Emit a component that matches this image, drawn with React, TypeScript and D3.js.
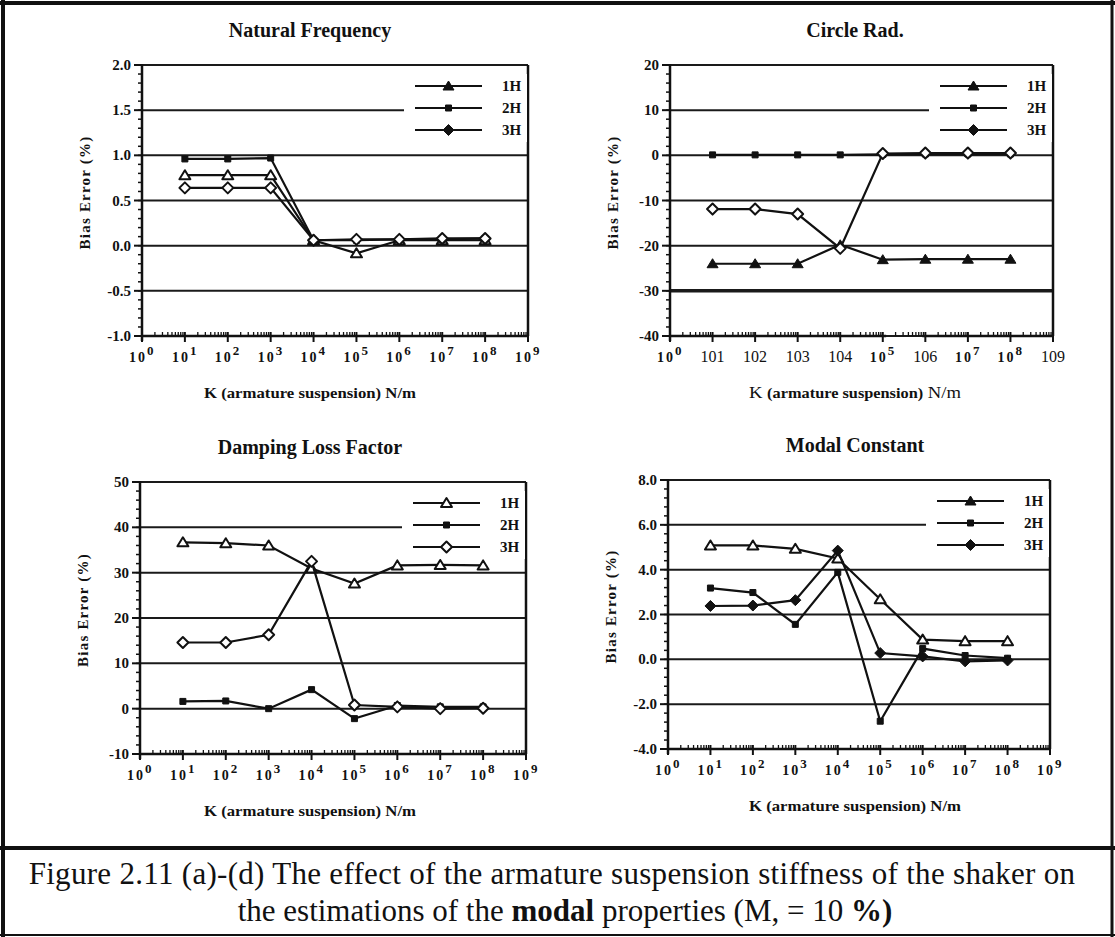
import React from 'react';
import * as d3 from 'd3';

const W = 1115;
const H = 937;
const SERIF = "'Liberation Serif', 'Times New Roman', serif";

// stiffness values (N/m) where the bias errors were estimated
const kValues = [1e1, 1e2, 1e3, 1e4, 1e5, 1e6, 1e7, 1e8];
const seriesNames = ['1H', '2H', '3H'];

// (a) natural frequency, bias error %
const natFreq1H = [0.78, 0.78, 0.78, 0.06, -0.085, 0.06, 0.06, 0.06];
const natFreq2H = [0.96, 0.96, 0.97, 0.06, 0.06, 0.07, 0.07, 0.08];
const natFreq3H = [0.64, 0.64, 0.64, 0.06, 0.07, 0.07, 0.08, 0.08];

// (b) circle radius
const circRad1H = [-24, -24, -24, -19.8, -23.1, -23, -23, -23];
const circRad2H = [0.1, 0.1, 0.1, 0.1, 0.2, 0.3, 0.3, 0.3];
const circRad3H = [-11.9, -11.9, -13, -20.6, 0.4, 0.5, 0.5, 0.5];

// (c) damping loss factor
const damping1H = [36.7, 36.5, 36, 30.9, 27.6, 31.6, 31.7, 31.6];
const damping2H = [1.6, 1.7, 0, 4.2, -2.2, 0.7, 0.4, 0.4];
const damping3H = [14.6, 14.6, 16.3, 32.5, 0.8, 0.4, 0, 0.1];

// (d) modal constant
const modal1H = [5.08, 5.08, 4.93, 4.5, 2.68, 0.88, 0.81, 0.81];
const modal2H = [3.18, 2.98, 1.56, 3.88, -2.76, 0.48, 0.17, 0.05];
const modal3H = [2.38, 2.4, 2.64, 4.85, 0.28, 0.13, -0.09, -0.05];

// axis tick values and labels
const natFreqTicks = [-1.0, -0.5, 0.0, 0.5, 1.0, 1.5, 2.0];
const circRadTicks = [-40, -30, -20, -10, 0, 10, 20];
const dampingTicks = [-10, 0, 10, 20, 30, 40, 50];
const modalTicks = [-4.0, -2.0, 0.0, 2.0, 4.0, 6.0, 8.0];
const decadeLabels = ['10^0', '10^1', '10^2', '10^3', '10^4', '10^5', '10^6', '10^7', '10^8', '10^9'];
const circRadLabels = ['10^0', '101', '102', '103', '104', '10^5', '106', '10^7', '10^8', '109'];

const triangle = (s) => `M0,${-s}L${s * 1.1},${s * 0.8}L${-s * 1.1},${s * 0.8}Z`;
const square = (s) => `M${-s},${-s}H${s}V${s}H${-s}Z`;
const diamond = (s) => `M0,${-s}L${s},0L0,${s}L${-s},0Z`;

function Marker({ shape, x, y, hollow }) {
  let d;
  if (shape === 'tri') d = triangle(5);
  else if (shape === 'sq') d = square(3);
  else d = diamond(5.5);
  return (
    <path d={d} transform={`translate(${x},${y})`} fill={hollow ? 'white' : '#111'}
      stroke="#111" strokeWidth={hollow ? 2 : 1} strokeLinejoin="round" />
  );
}

function TickLabel({ label, x, y }) {
  if (label.indexOf('^') >= 0) {
    const [base, exp] = label.split('^');
    return (
      <text x={x - 13} y={y} fontFamily={SERIF} fontWeight="bold" fontSize={14} letterSpacing={2} fill="#111">
        {base}<tspan dy={-7} fontSize={13}>{exp}</tspan>
      </text>
    );
  }
  return (
    <text x={x} y={y} textAnchor="middle" fontFamily={SERIF} fontSize={16} fill="#111">{label}</text>
  );
}

function Panel({ cfg }) {
  const { left, right, top, bottom } = cfg;
  const x = d3.scaleLog().domain([1, 1e9]).range([left, right]);
  const y = d3.scaleLinear().domain(cfg.yDomain).range([bottom, top]);
  const line = d3.line().x((d) => x(d[0])).y((d) => y(d[1]));
  const fmt = (v) => d3.format(cfg.yFormat)(v).replace('\u2212', '-');

  const step = cfg.yTicks[1] - cfg.yTicks[0];
  const yMinor = d3.range(cfg.yDomain[0], cfg.yDomain[1] + 1e-9, step / 5);
  const xMinor = [];
  for (let dec = 0; dec < 9; dec++) {
    for (let m = 2; m <= 9; m++) xMinor.push(m * Math.pow(10, dec));
  }
  const decades = d3.range(0, 10).map((e) => Math.pow(10, e));

  const legX0 = right - 113;
  const legX1 = right - 46;
  const legY = [top + 21, top + 43, top + 65];

  return (
    <g>
      <text x={cfg.titleX} y={top - 28} textAnchor="middle" fontFamily={SERIF} fontWeight="bold" fontSize={20} fill="#111">
        {cfg.title}
      </text>

      {/* gridlines */}
      {cfg.yTicks.map((t) => (
        <line key={'g' + t} x1={left} x2={right} y1={y(t)} y2={y(t)} stroke="#1a1a1a"
          strokeWidth={t === cfg.heavyTick ? 3.5 : 2} />
      ))}
      <line x1={right} x2={right} y1={top} y2={bottom} stroke="#111" strokeWidth={2.5} />

      {/* legend */}
      <rect x={right - 124} y={top + 9} width={123} height={68} fill="white" />
      {seriesNames.map((n, i) => (
        <g key={'l' + n}>
          <line x1={legX0} x2={legX1} y1={legY[i]} y2={legY[i]} stroke="#111" strokeWidth={2} />
          <Marker shape={cfg.series[i].shape} x={(legX0 + legX1) / 2} y={legY[i]} hollow={cfg.series[i].legendHollow} />
          <text x={right - 26} y={legY[i] + 5} fontFamily={SERIF} fontWeight="bold" fontSize={15} fill="#111">{n}</text>
        </g>
      ))}

      {/* y axis */}
      <line x1={left} x2={left} y1={top - 1} y2={bottom + 5} stroke="#111" strokeWidth={2.5} />
      {yMinor.map((t, i) => (
        <line key={'ym' + i} x1={left - 4} x2={left} y1={y(t)} y2={y(t)} stroke="#111" strokeWidth={1.5} />
      ))}
      {cfg.yTicks.map((t) => (
        <g key={'yt' + t}>
          <line x1={left - 8} x2={left} y1={y(t)} y2={y(t)} stroke="#111" strokeWidth={2} />
          <text x={left - 11} y={y(t) + 5} textAnchor="end" fontFamily={SERIF} fontWeight="bold" fontSize={15} fill="#111">
            {fmt(t)}
          </text>
        </g>
      ))}
      <text transform={`translate(${left - 52},${(top + bottom) / 2 - 8}) rotate(-90)`} textAnchor="middle"
        fontFamily={SERIF} fontWeight="bold" fontSize={15} letterSpacing={1.2} fill="#111">
        Bias  Error  (%)
      </text>

      {/* x axis */}
      {cfg.axisGap ? (
        <g>
          <line x1={left} x2={x(cfg.axisGap[0])} y1={bottom} y2={bottom} stroke="#111" strokeWidth={2.5} />
          <line x1={x(cfg.axisGap[1])} x2={right} y1={bottom} y2={bottom} stroke="#111" strokeWidth={2.5} />
        </g>
      ) : (
        <line x1={left} x2={right} y1={bottom} y2={bottom} stroke="#111" strokeWidth={2.5} />
      )}
      {xMinor.map((v, i) => (
        <line key={'xm' + i} x1={x(v)} x2={x(v)} y1={bottom - 4} y2={bottom} stroke="#111" strokeWidth={1.3} />
      ))}
      {decades.map((v, i) => (
        <g key={'xd' + i}>
          <line x1={x(v)} x2={x(v)} y1={bottom - 4} y2={bottom + 6} stroke="#111" strokeWidth={2} />
          <TickLabel label={cfg.xLabels[i]} x={x(v)} y={bottom + 26} />
        </g>
      ))}
      <text x={cfg.titleX} y={bottom + 62} textAnchor="middle" fontFamily={SERIF} fontSize={14} fill="#111"
        textLength={212} lengthAdjust="spacingAndGlyphs">
        {cfg.xTitle.map((p, i) => (
          <tspan key={i} fontWeight={p.bold ? 'bold' : 'normal'} fontSize={p.bold ? 14 : 16}>{p.text}</tspan>
        ))}
      </text>

      {/* series */}
      {cfg.series.map((s, si) => {
        const pts = kValues.map((k, i) => [k, s.values[i]]);
        return (
          <g key={'s' + si}>
            <path d={line(pts)} fill="none" stroke="#111" strokeWidth={2.2} />
            {pts.map((p, i) => (
              <Marker key={i} shape={s.shape} x={x(p[0])} y={y(p[1])} hollow={s.hollow} />
            ))}
          </g>
        );
      })}
    </g>
  );
}

const boldTitle = [{ text: 'K (armature suspension) N/m', bold: true }];
const mixedTitle = [
  { text: 'K ', bold: false },
  { text: '(armature suspension)', bold: true },
  { text: ' N/m', bold: false },
];

const panels = [
  {
    title: 'Natural  Frequency', titleX: 310, left: 142, right: 528, top: 65, bottom: 336,
    yDomain: [-1, 2], yTicks: natFreqTicks, yFormat: '.1f', xLabels: decadeLabels, xTitle: boldTitle,
    series: [
      { values: natFreq1H, shape: 'tri', hollow: true, legendHollow: false },
      { values: natFreq2H, shape: 'sq', hollow: false, legendHollow: false },
      { values: natFreq3H, shape: 'dia', hollow: true, legendHollow: false },
    ],
  },
  {
    title: 'Circle Rad.', titleX: 855, left: 670, right: 1053, top: 65, bottom: 336,
    yDomain: [-40, 20], yTicks: circRadTicks, yFormat: 'd', xLabels: circRadLabels, xTitle: mixedTitle,
    heavyTick: -30, axisGap: [1.2e5, 0.85e6],
    series: [
      { values: circRad1H, shape: 'tri', hollow: false, legendHollow: false },
      { values: circRad2H, shape: 'sq', hollow: false, legendHollow: false },
      { values: circRad3H, shape: 'dia', hollow: true, legendHollow: false },
    ],
  },
  {
    title: 'Damping Loss Factor', titleX: 310, left: 140, right: 526, top: 482, bottom: 754,
    yDomain: [-10, 50], yTicks: dampingTicks, yFormat: 'd', xLabels: decadeLabels, xTitle: boldTitle,
    series: [
      { values: damping1H, shape: 'tri', hollow: true, legendHollow: true },
      { values: damping2H, shape: 'sq', hollow: false, legendHollow: false },
      { values: damping3H, shape: 'dia', hollow: true, legendHollow: true },
    ],
  },
  {
    title: 'Modal Constant', titleX: 855, left: 668, right: 1050, top: 480, bottom: 749,
    yDomain: [-4, 8], yTicks: modalTicks, yFormat: '.1f', xLabels: decadeLabels, xTitle: boldTitle,
    series: [
      { values: modal1H, shape: 'tri', hollow: true, legendHollow: false },
      { values: modal2H, shape: 'sq', hollow: false, legendHollow: false },
      { values: modal3H, shape: 'dia', hollow: false, legendHollow: false },
    ],
  },
];

export default function App() {
  return (
    <svg width={W} height={H} style={{ position: 'absolute', left: 0, top: 0, background: 'white' }}>
      <rect x={0} y={0} width={W} height={H} fill="white" />
      {/* figure frame */}
      <line x1={0} x2={W} y1={3} y2={3} stroke="#111" strokeWidth={4} />
      <line x1={3} x2={3} y1={0} y2={H} stroke="#111" strokeWidth={4} />
      <line x1={1112} x2={1112} y1={0} y2={H} stroke="#111" strokeWidth={3} />
      <line x1={0} x2={W} y1={848} y2={848} stroke="#111" strokeWidth={4} />
      <line x1={0} x2={W} y1={935} y2={935} stroke="#111" strokeWidth={2} />

      {panels.map((p, i) => <Panel key={i} cfg={p} />)}

      <text x={552} y={884} textAnchor="middle" fontFamily={SERIF} fontSize={31} letterSpacing={0.3} fill="#111">
        Figure 2.11 (a)-(d)   The effect of the armature suspension stiffness of the shaker on
      </text>
      <text x={565} y={921} textAnchor="middle" fontFamily={SERIF} fontSize={31} fill="#111">
        the estimations of the <tspan fontWeight="bold">modal</tspan> properties (M, = 10 <tspan fontWeight="bold">%)</tspan>
      </text>
    </svg>
  );
}
